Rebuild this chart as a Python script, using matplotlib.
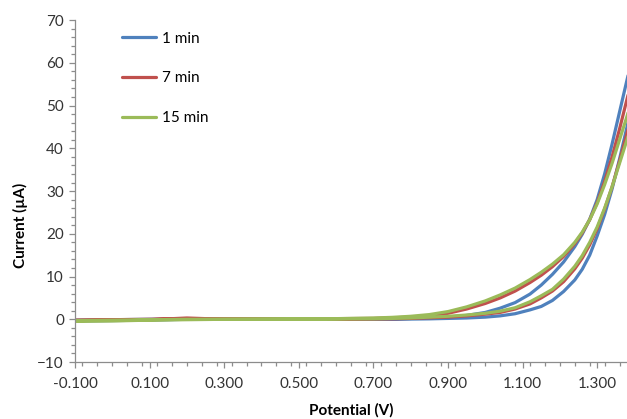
import matplotlib
matplotlib.use('Agg')
import matplotlib.pyplot as plt
from matplotlib.ticker import MultipleLocator, FormatStrFormatter
import numpy as np

# potential grid (V), shared by every branch
potential = [-0.10, 0.00, 0.10, 0.20, 0.30, 0.40, 0.50, 0.60, 0.70, 0.75,
             0.80, 0.85, 0.90, 0.95, 1.00, 1.04, 1.08, 1.12, 1.15, 1.18,
             1.21, 1.24, 1.26, 1.28, 1.30, 1.32, 1.34, 1.36, 1.38, 1.40]

# forward sweep (lower branch), current in uA
blue_fwd = [-0.4, -0.3, -0.2, 0.0, 0.0, 0.0, 0.0, 0.0, 0.0, 0.0,
            0.05, 0.1, 0.2, 0.3, 0.5, 0.8, 1.3, 2.2, 3.0, 4.4,
            6.5, 9.2, 11.7, 15.0, 19.5, 24.5, 30.5, 37.5, 45.0, 53.0]
red_fwd = [-0.3, -0.2, -0.1, 0.3, 0.0, 0.0, 0.0, 0.0, 0.05, 0.1,
           0.2, 0.35, 0.5, 0.8, 1.2, 1.6, 2.4, 3.6, 5.0, 6.6,
           8.8, 11.8, 14.3, 17.4, 21.2, 25.8, 31.0, 37.0, 43.5, 50.0]
green_fwd = [-0.5, -0.4, -0.2, -0.1, 0.0, 0.0, 0.0, 0.05, 0.1, 0.2,
             0.3, 0.5, 0.7, 1.0, 1.4, 1.9, 2.7, 4.1, 5.5, 7.0,
             9.4, 12.4, 14.9, 18.0, 21.6, 26.0, 31.0, 36.5, 42.0, 48.0]

# reverse sweep (upper branch)
blue_rev = [-0.2, -0.1, 0.0, 0.1, 0.1, 0.1, 0.1, 0.1, 0.1, 0.15,
            0.2, 0.3, 0.5, 0.9, 1.6, 2.6, 3.9, 5.9, 8.0, 10.5,
            13.4, 17.0, 19.9, 23.4, 28.0, 34.0, 41.0, 48.5, 56.0, 63.5]
red_rev = [-0.2, -0.1, 0.0, 0.1, 0.1, 0.1, 0.1, 0.15, 0.2, 0.35,
           0.5, 0.8, 1.4, 2.4, 3.7, 5.0, 6.6, 8.6, 10.3, 12.3,
           14.7, 17.7, 20.2, 23.3, 27.3, 32.2, 38.0, 44.5, 51.5, 58.5]
green_rev = [-0.3, -0.2, -0.1, 0.0, 0.0, 0.05, 0.1, 0.15, 0.3, 0.45,
             0.7, 1.1, 1.8, 2.9, 4.3, 5.7, 7.3, 9.3, 11.0, 12.9,
             15.1, 18.0, 20.4, 23.3, 27.0, 31.5, 36.5, 42.0, 47.5, 53.5]

labels = ['1 min', '7 min', '15 min']
colors = ['#4F81BD', '#C0504D', '#9BBB59']

plt.rcParams['font.family'] = ['Lato', 'DejaVu Sans']

fig = plt.figure(figsize=(6.27, 4.19), dpi=100)
ax = fig.add_axes([0.1196, 0.136, 0.8804, 0.816])

v = np.array(potential)
for fwd, rev, lab, col in zip([blue_fwd, red_fwd, green_fwd],
                              [blue_rev, red_rev, green_rev], labels, colors):
    xs = np.concatenate([v, v[::-1]])
    ys = np.concatenate([fwd, rev[::-1]])
    ax.plot(xs, ys, color=col, lw=2.3, label=lab, solid_capstyle='round',
            solid_joinstyle='round')

ax.set_xlim(-0.1, 1.38)
ax.set_ylim(-10, 70)
ax.set_xticks(np.arange(-0.1, 1.31, 0.2))
ax.xaxis.set_minor_locator(MultipleLocator(0.04))
ax.xaxis.set_major_formatter(FormatStrFormatter('%.3f'))
ax.yaxis.set_major_locator(MultipleLocator(10))
ax.yaxis.set_minor_locator(MultipleLocator(2))

for s in ['top', 'right']:
    ax.spines[s].set_visible(False)
for s in ['left', 'bottom']:
    ax.spines[s].set_color('#8c8c8c')
    ax.spines[s].set_linewidth(0.9)

ax.tick_params(which='both', direction='out', color='#8c8c8c', width=0.9,
               labelsize=11, labelcolor='#333333')
ax.tick_params(which='major', length=4.5)
ax.tick_params(which='minor', length=3)
ax.tick_params(axis='x', pad=6)

ax.set_xlabel('Potential (V)', fontsize=11, fontweight='bold', labelpad=9)
ax.set_ylabel('Current (µA)', fontsize=11, fontweight='bold')
ax.yaxis.set_label_coords(-0.085, 0.40)

ax.legend(loc='upper left', bbox_to_anchor=(0.085, 0.966), frameon=False,
          fontsize=11, handlelength=2.2, handletextpad=0.45, labelspacing=1.68,
          borderpad=0, borderaxespad=0)

fig.savefig('out.png', dpi=100)
